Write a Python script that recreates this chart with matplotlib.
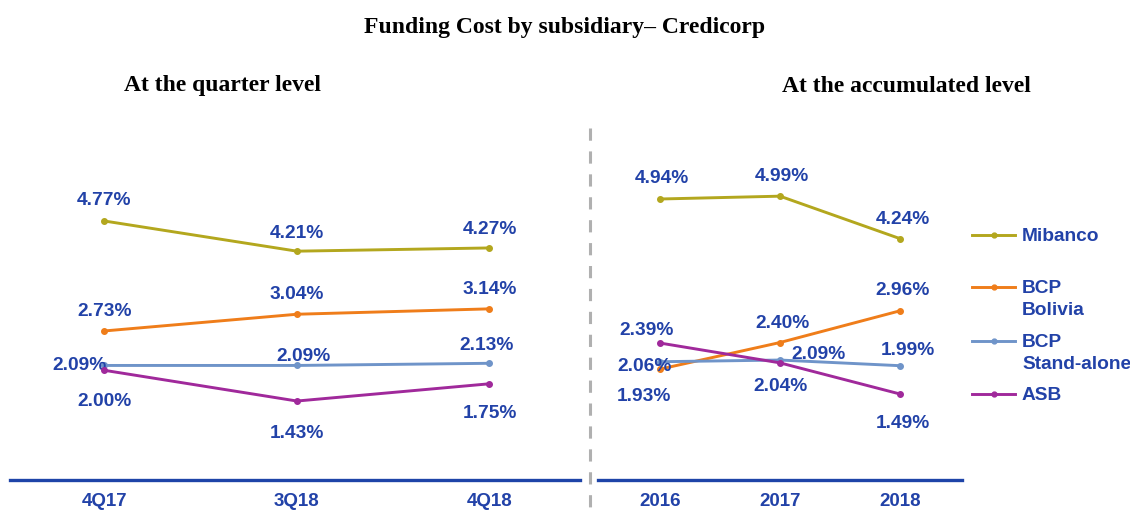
import matplotlib
matplotlib.use('Agg')
import matplotlib.pyplot as plt
from matplotlib.lines import Line2D

# data
quarters = ['4Q17', '3Q18', '4Q18']
years = ['2016', '2017', '2018']
series = ['Mibanco', 'BCP\nBolivia', 'BCP\nStand-alone', 'ASB']

q_mibanco = [4.77, 4.21, 4.27]
q_bolivia = [2.73, 3.04, 3.14]
q_standalone = [2.09, 2.09, 2.13]
q_asb = [2.00, 1.43, 1.75]

y_mibanco = [4.94, 4.99, 4.24]
y_bolivia = [1.93, 2.40, 2.96]
y_standalone = [2.06, 2.09, 1.99]
y_asb = [2.39, 2.04, 1.49]

colors = ['#b3a71e', '#ef7d1a', '#6f94c9', '#a0299b']
txt_blue = '#2242a8'
axis_blue = '#1e44a8'

# label offsets in pixels (dx, dy) for each point
q_offsets = [
    [(0, 20), (0, 18), (0, 18)],
    [(0, 19), (0, 20), (0, 19)],
    [(-25, 0), (7, 9), (-3, 18)],
    [(0, -31), (0, -32), (0, -30)],
]
y_offsets = [
    [(2, 20), (2, 20), (3, 19)],
    [(-16, -27), (2, 19), (3, 20)],
    [(-16, -5), (38, 6), (8, 15)],
    [(-14, 13), (0, -24), (3, -30)],
]

plt.rcParams['font.family'] = ['Liberation Sans', 'DejaVu Sans']

W, H = 1130, 516
fig = plt.figure(figsize=(W / 100, H / 100), dpi=100)

ax_bottom = (H - 480) / H
ax_h = (480 - 130) / H
ax1 = fig.add_axes([10 / W, ax_bottom, 570 / W, ax_h])
ax2 = fig.add_axes([598 / W, ax_bottom, 364 / W, ax_h])


def draw(ax, cats, data, offsets, xlim, ylim):
    xs = list(range(len(cats)))
    for vals, c, offs in zip(data, colors, offsets):
        ax.plot(xs, vals, color=c, lw=2.1, marker='o', ms=4, zorder=3)
        for x, v, (dx, dy) in zip(xs, vals, offs):
            ax.annotate('{:.2f}%'.format(v), (x, v), xytext=(dx, dy),
                        textcoords='offset pixels', ha='center', va='center',
                        fontsize=13.8, fontweight='bold', color=txt_blue)
    ax.set_xlim(*xlim)
    ax.set_ylim(*ylim)
    ax.set_xticks(xs)
    ax.set_xticklabels(cats, fontsize=13.5, fontweight='bold', color=txt_blue)
    ax.set_yticks([])
    for s in ['top', 'left', 'right']:
        ax.spines[s].set_visible(False)
    ax.spines['bottom'].set_color(axis_blue)
    ax.spines['bottom'].set_linewidth(2.4)
    ax.tick_params(axis='x', length=0, pad=9)
    ax.patch.set_alpha(0)


q_data = [q_mibanco, q_bolivia, q_standalone, q_asb]
y_data = [y_mibanco, y_bolivia, y_standalone, y_asb]
draw(ax1, quarters, q_data, q_offsets, (-0.49, 2.47), (-0.035, 6.458))
draw(ax2, years, y_data, y_offsets, (-0.52, 2.52), (-0.033, 6.161))

# legend drawn by hand so handles sit on the first text line
leg_y = [235, 287, 341, 394]
for name, c, yy in zip(series, colors, leg_y):
    fy = 1 - yy / H
    fig.add_artist(Line2D([972 / W, 1015 / W], [fy, fy], color=c, lw=2.1))
    fig.add_artist(Line2D([993.5 / W], [fy], color=c, marker='o', ms=3.5))
    fig.text(1022 / W, fy + 7 / H, name, ha='left', va='top', fontsize=13.8,
             fontweight='bold', color=txt_blue, linespacing=1.35)

# dashed separator
fig.add_artist(Line2D([590 / W, 590 / W], [1 - 128 / H, 0], color='#b0b0b0',
                      lw=2.2, ls=(0, (4, 3.5))))

# titles
serif = ['Liberation Serif', 'DejaVu Serif']
fig.text(565 / W, 1 - 28 / H, 'Funding Cost by subsidiary\u2013 Credicorp',
         ha='center', va='center', fontsize=17, fontweight='bold', family=serif)
fig.text(223 / W, 1 - 86 / H, 'At the quarter level', ha='center', va='center',
         fontsize=17, fontweight='bold', family=serif)
fig.text(906 / W, 1 - 86 / H, 'At the accumulated level', ha='center', va='center',
         fontsize=17, fontweight='bold', family=serif)

fig.savefig('out.png', dpi=100)
